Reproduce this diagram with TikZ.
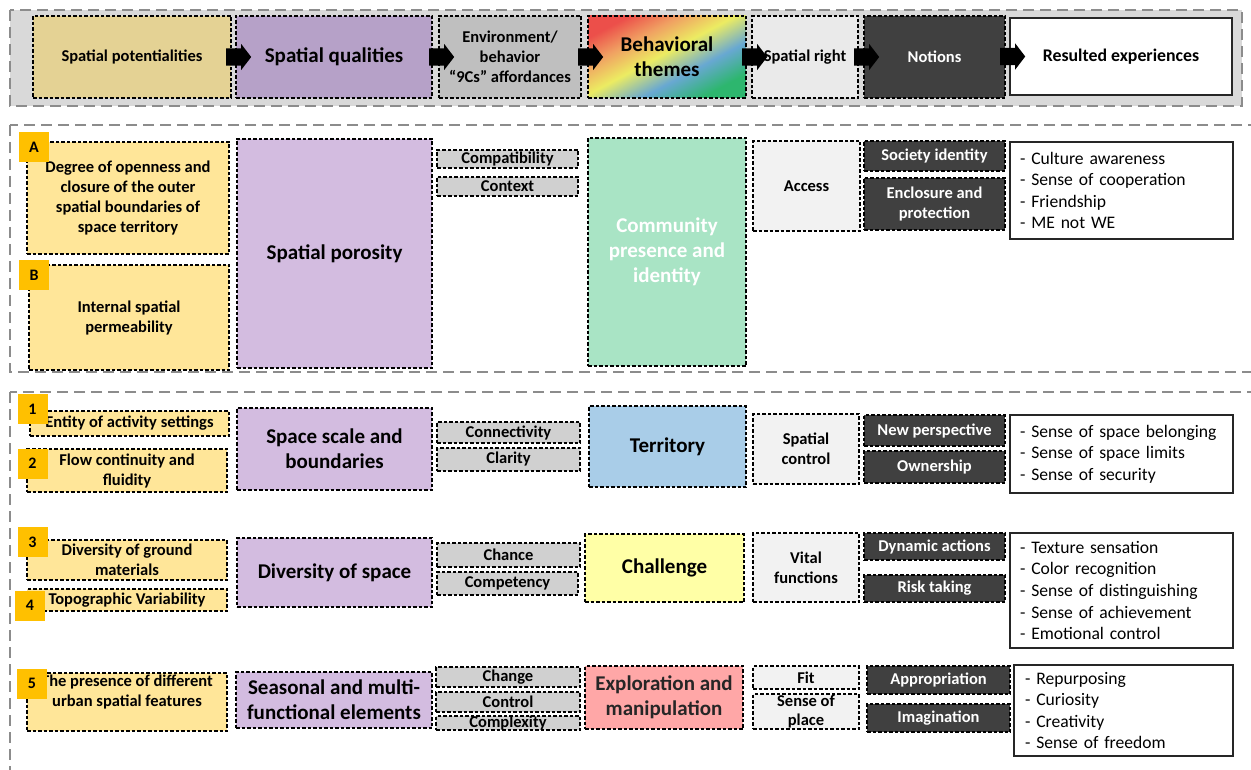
\documentclass[tikz,border=0pt]{standalone}
\usepackage{fontspec}
\setmainfont{Carlito}
\usepackage{tikz}
\usetikzlibrary{shapes.arrows}
\definecolor{panelgray}{HTML}{8C8C8C}
\definecolor{panelfill}{HTML}{D9D9D9}
\definecolor{hdrtan}{HTML}{E4D294}
\definecolor{hdrlilac}{HTML}{B6A1C8}
\definecolor{potyel}{HTML}{FFE699}
\definecolor{lilac}{HTML}{D3BCE0}
\definecolor{cgray}{HTML}{D0D0D0}
\definecolor{hdrgray}{HTML}{BFBFBF}
\definecolor{rightgray}{HTML}{F2F2F2}
\definecolor{notedark}{HTML}{404040}
\definecolor{tagor}{HTML}{FFC000}
\definecolor{mint}{HTML}{A9E4C5}
\definecolor{skyblue}{HTML}{A9CDE8}
\definecolor{paleyel}{HTML}{FFFFA6}
\definecolor{pink}{HTML}{FFA7A7}
\definecolor{thR}{HTML}{EC4F4A}
\definecolor{thO}{HTML}{F0A062}
\definecolor{thY}{HTML}{ECEC62}
\definecolor{thB}{HTML}{68A8D2}
\definecolor{thG}{HTML}{2DB66E}
\pgfdeclarehorizontalshading{themes}{100bp}{color(0bp)=(thR); color(25bp)=(thR); color(36bp)=(thO); color(48bp)=(thY); color(61bp)=(thB); color(74bp)=(thG); color(100bp)=(thG)}

\begin{document}
\begin{tikzpicture}[x=1pt, y=-1pt,
  wh/.style 2 args={minimum width=#1pt, minimum height=#2pt},
  fs/.style 2 args={font=\bfseries\fontsize{#1}{#2}\selectfont},
  cell/.style={draw, dash pattern=on 3.5pt off 2pt, line width=1.3pt, align=center, inner sep=1pt, fs={16.5}{20}},
  potbox/.style={cell, fill=potyel},
  qualbox/.style={cell, fill=lilac, fs={21}{25}},
  cbox/.style={cell, fill=cgray, inner ysep=0pt},
  themebox/.style={cell, fs={21}{25}},
  rightbox/.style={cell, fill=rightgray},
  notebox/.style={cell, fill=notedark, text=white},
  expbox/.style={draw=black!85, line width=1.2pt, fill=white, align=left, inner sep=1pt, font=\fontsize{17.6}{21.6}\selectfont},
  tagbox/.style={fill=tagor, minimum size=30pt, inner sep=0pt, fs={16}{18}},
  panel/.style={draw=panelgray, dash pattern=on 11pt off 6pt, line width=2.8pt},
  blockarr/.style={single arrow, fill=black, minimum height=25pt, minimum width=26pt, inner xsep=0pt, inner ysep=8.5pt, single arrow head extend=4.5pt, single arrow tip angle=105}]
\useasboundingbox (0,0) rectangle (1251,770);
\clip (0,0) rectangle (1251,770);
\draw[panel, fill=panelfill] (10,10) rectangle (1242,106);
\draw[panel] (10,125) rectangle (1280,372);
\draw[panel] (10,392) rectangle (1280,800);

\node[cell, fill=hdrtan, wh={198}{82}] (sp) at (132,57) {Spatial potentialities};
\node[cell, fill=hdrlilac, fs={21}{25}, wh={196}{82}] (sq) at (334,57) {Spatial qualities};
\node[cell, fill=hdrgray, wh={142}{82}] (ea) at (510,57) {Environment/\\behavior\\“9Cs” affordances};
\node[themebox, shade, shading=themes, shading angle=-62, wh={158}{82}] (bt) at (667,57) {Behavioral\\themes};
\node[rightbox, fill=rightgray!70!panelfill, wh={106}{82}] (sr) at (805,57) {Spatial right};
\node[notebox, wh={141}{82}] (no) at (934.5,57) {Notions};
\node[expbox, align=center, fs={17.8}{21}, wh={222}{77}] (re) at (1121,56.5) {Resulted experiences};
\node[blockarr] (a1) at (sq.west) {};
\node[blockarr] (a2) at (ea.west) {};
\node[blockarr] (a3) at (bt.west) {};
\node[blockarr] (a4) at (sr.west) {};
\node[blockarr] (a5) at (no.west) {};
\node[blockarr] (a6) at (re.west) {};

\node[potbox, wh={202}{112}] (open) at (128,198) {Degree of openness and\\closure of the outer\\spatial boundaries of\\space territory};
\node[potbox, wh={200}{105}] (perm) at (129,317.5) {Internal spatial\\permeability};
\node[tagbox] (ta) at (34,147.5) {A};
\node[tagbox] (tb) at (34,275) {B};
\node[qualbox, wh={195}{229}] (poro) at (334.5,253.5) {Spatial porosity};
\node[cbox, wh={141}{18}] (comp) at (507.5,159) {Compatibility};
\node[cbox, wh={141}{19}] (ctx) at (507.5,186.5) {Context};
\node[themebox, fill=mint, text=white, wh={158}{228}] (comm) at (667,252) {Community\\presence and\\identity};
\node[rightbox, wh={107}{90}] (acc) at (806.5,186) {Access};
\node[notebox, wh={141}{30}] (soc) at (934.5,156) {Society identity};
\node[notebox, wh={141}{52}] (encl) at (934.5,204) {Enclosure and\\protection};
\node[expbox, text width=203pt, wh={223}{97}] (ex1) at (1121.5,190.5) {- Culture awareness\\- Sense of cooperation\\- Friendship\\- ME not WE};

\node[potbox, wh={199}{25}, inner ysep=0pt] (ent) at (129.5,423.5) {Entity of activity settings};
\node[potbox, wh={200}{43}, inner ysep=0pt] (flow) at (127,470.5) {Flow continuity and\\fluidity};
\node[tagbox] (t1) at (32.5,409) {1};
\node[tagbox] (t2) at (32.5,463.5) {2};
\node[qualbox, wh={195}{82}] (scale) at (334.5,449) {Space scale and\\boundaries};
\node[cbox, wh={143}{21}] (conn) at (508.5,432.5) {Connectivity};
\node[cbox, wh={143}{23}] (clar) at (508.5,459.5) {Clarity};
\node[themebox, fill=skyblue, wh={157}{81}] (terr) at (667.5,446.5) {Territory};
\node[rightbox, wh={106}{70}] (ctl) at (806,449) {Spatial\\control};
\node[notebox, wh={141}{31}] (newp) at (934.5,430.5) {New perspective};
\node[notebox, wh={141}{32}] (own) at (934.5,467) {Ownership};
\node[expbox, text width=203pt, wh={223}{78}] (ex2) at (1121.5,454) {- Sense of space belonging\\- Sense of space limits\\- Sense of security};

\node[potbox, wh={200}{40}, inner ysep=0pt] (grnd) at (127,560) {Diversity of ground\\materials};
\node[potbox, wh={200}{22}, inner ysep=0pt] (topo) at (127,600) {Topographic Variability};
\node[tagbox] (t3) at (32.5,542) {3};
\node[tagbox] (t4) at (30,605.5) {4};
\node[qualbox, wh={195}{69}] (divs) at (334.5,572.5) {Diversity of space};
\node[cbox, wh={143}{24}] (chan) at (508.5,555) {Chance};
\node[cbox, wh={141}{23}] (cmpt) at (507.5,583.5) {Competency};
\node[themebox, fill=paleyel, wh={159}{68}] (chal) at (664.5,568) {Challenge};
\node[rightbox, wh={106}{69}] (vit) at (806,567.5) {Vital\\functions};
\node[notebox, wh={141}{27}] (dyn) at (934.5,546.5) {Dynamic actions};
\node[notebox, wh={141}{27}] (risk) at (934.5,588.5) {Risk taking};
\node[expbox, text width=203pt, wh={223}{115}] (ex3) at (1121.5,590.5) {- Texture sensation\\- Color recognition\\- Sense of distinguishing\\- Sense of achievement\\- Emotional control};

\node[potbox, wh={200}{58}, text depth=22pt] (pres) at (127,702) {The presence of different\\urban spatial features};
\node[tagbox] (t5) at (32,683.5) {5};
\node[qualbox, wh={196}{56}, inner ysep=0pt] (seas) at (334,700) {Seasonal and multi-\\functional elements};
\node[cbox, wh={144}{20}] (chg) at (508,677) {Change};
\node[cbox, wh={144}{20}] (ctrl) at (508,702) {Control};
\node[cbox, wh={144}{14}, text height=9pt, text depth=0pt] (cplx) at (508,723) {Complexity};
\node[themebox, fill=pink, text=black!85, wh={158}{63}] (expl) at (664,697.5) {Exploration and\\manipulation};
\node[rightbox, fs={16.5}{19}, wh={106}{23}, inner ysep=0pt] (fit) at (806,677.5) {Fit};
\node[rightbox, fs={16.5}{19}, wh={106}{35}, inner ysep=0pt] (plc) at (806,711.5) {Sense of\\place};
\node[notebox, wh={143}{28}] (appr) at (938.5,680) {Appropriation};
\node[notebox, wh={143}{28}] (imag) at (938.5,718) {Imagination};
\node[expbox, text width=197pt, wh={219}{91}] (ex4) at (1123.5,710.5) {- Repurposing\\- Curiosity\\- Creativity\\- Sense of freedom};
\end{tikzpicture}
\end{document}
